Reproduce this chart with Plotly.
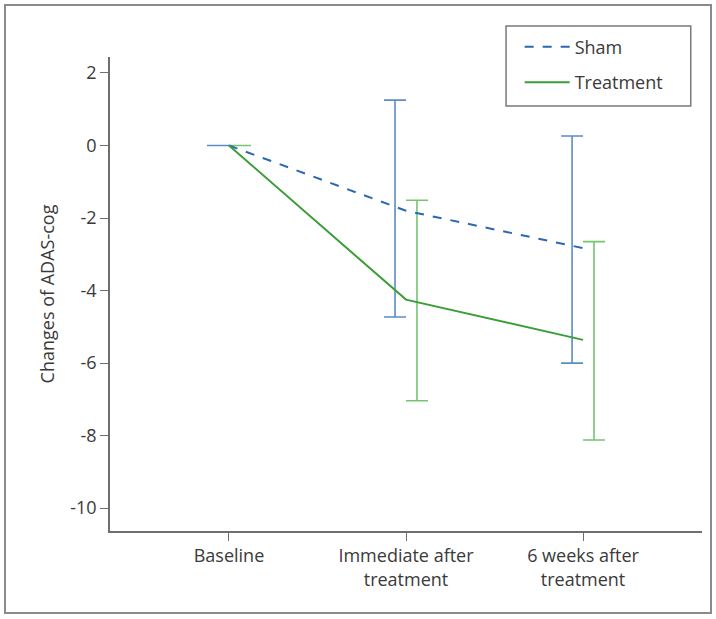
import plotly.graph_objects as go

categories = ["Baseline", "Immediate after<br>treatment", "6 weeks after<br>treatment"]
y_ticks = [2, 0, -2, -4, -6, -8, -10]
y_ticklabels = [str(v) for v in y_ticks]

sham_mean = [0, -1.80, -2.83]
sham_upper = [0, 1.25, 0.26]
sham_lower = [0, -4.73, -6.00]

treat_mean = [0, -4.25, -5.36]
treat_upper = [0, -1.51, -2.65]
treat_lower = [0, -7.04, -8.12]

FONT = "Open Sans"
TXT = "#3a3a3a"
SHAM_LINE = "#2a68b2"
SHAM_ERR = "#5a8cc6"
TREAT_LINE = "#3a9e38"
TREAT_ERR = "#74c571"

xi = list(range(len(categories)))
off = 0.062

fig = go.Figure()

fig.add_trace(go.Scatter(
    x=[i - off for i in xi], y=sham_mean, mode="none", showlegend=False,
    error_y=dict(type="data", symmetric=False,
                 array=[u - m for u, m in zip(sham_upper, sham_mean)],
                 arrayminus=[m - l for l, m in zip(sham_lower, sham_mean)],
                 color=SHAM_ERR, thickness=1.6, width=11),
    hoverinfo="skip"))
fig.add_trace(go.Scatter(
    x=[i + off for i in xi], y=treat_mean, mode="none", showlegend=False,
    error_y=dict(type="data", symmetric=False,
                 array=[u - m for u, m in zip(treat_upper, treat_mean)],
                 arrayminus=[m - l for l, m in zip(treat_lower, treat_mean)],
                 color=TREAT_ERR, thickness=1.6, width=11),
    hoverinfo="skip"))

fig.add_trace(go.Scatter(
    x=xi, y=sham_mean, mode="lines", name="Sham", legendgroup="a",
    line=dict(color=SHAM_LINE, width=2, dash="dash")))
fig.add_trace(go.Scatter(
    x=xi, y=treat_mean, mode="lines", name="Treatment", legendgroup="b",
    line=dict(color=TREAT_LINE, width=2)))

fig.update_layout(
    width=716, height=619,
    margin=dict(l=110, r=14, t=57, b=88, autoexpand=False),
    paper_bgcolor="white", plot_bgcolor="white",
    font=dict(family=FONT, size=17, color=TXT),
    legend=dict(x=0.692, y=1.060, xanchor="left", yanchor="top",
                borderwidth=0, tracegroupgap=9, itemwidth=45,
                font=dict(size=18, color=TXT), bgcolor="rgba(0,0,0,0)"),
    shapes=[
        dict(type="rect", xref="paper", yref="paper",
             x0=-0.1774, x1=1.0152, y0=-0.173, y1=1.1097,
             line=dict(color="#8a8a8a", width=2), layer="below"),
        dict(type="rect", xref="paper", yref="paper",
             x0=0.669, x1=0.981, y0=0.8966, y1=1.0654,
             line=dict(color="#7a7a7a", width=1.5), fillcolor="white", layer="below"),
    ],
)

fig.update_xaxes(
    range=[-0.672, 2.672], tickmode="array", tickvals=xi, ticktext=categories,
    showgrid=False, zeroline=False, showline=True, linecolor="#6e6e6e", linewidth=1.5,
    ticks="outside", ticklen=8, tickcolor="#6e6e6e", tickfont=dict(size=18, color=TXT),
    automargin=False)
fig.update_yaxes(
    range=[-10.63, 2.44], tickmode="array", tickvals=y_ticks, ticktext=y_ticklabels,
    showgrid=False, zeroline=False, showline=True, linecolor="#6e6e6e", linewidth=1.5,
    ticks="outside", ticklen=8, tickcolor="#6e6e6e", tickfont=dict(size=18, color=TXT),
    title=dict(text="Changes of ADAS-cog", font=dict(size=18, color=TXT), standoff=11),
    automargin=True)

fig.write_html("out.html", config={"displayModeBar": False},
               post_script="document.body.style.margin='0';document.body.style.overflow='hidden';")
